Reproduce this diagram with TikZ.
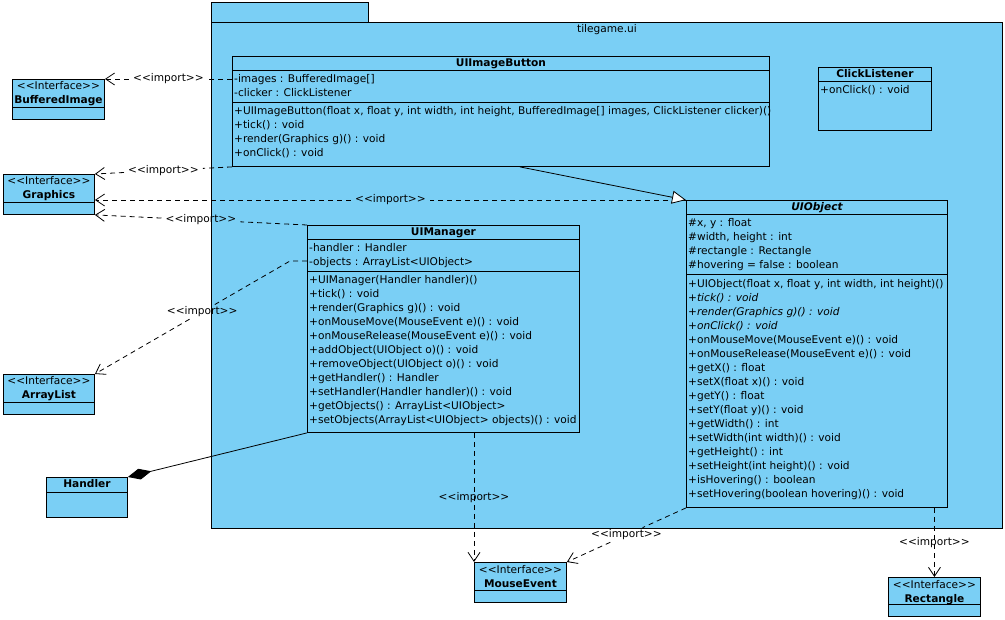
\documentclass[tikz,border=0pt]{standalone}
\usepackage{fontspec}
\setmainfont{DejaVu Sans}[Ligatures=TeXOff]
\usetikzlibrary{arrows.meta,calc,positioning}
\definecolor{vpblue}{RGB}{122,207,245}
\newcommand{\vpfont}{\fontsize{10.6}{14}\selectfont}
\tikzset{
        % Class and package boxes
        class_box/.style={rectangle, draw=black, fill=vpblue, line width=0.9pt, inner sep=0pt, anchor=north west},
        % Compartment separators
        class_sep/.style={draw=black, line width=0.9pt},
        % Class names
        class_name/.style={inner sep=0pt, anchor=base, font=\vpfont\bfseries},
        % Attributes and operations
        class_members/.style={inner sep=0pt, anchor=north west, align=left, font=\vpfont},
        % Interface header
        iface_head/.style={inner sep=0pt, anchor=north, align=center, font=\vpfont},
        % Import dependencies
        dep_line/.style={line width=0.8pt, dash pattern=on 5pt off 4pt},
        dep_tip/.style={-{Straight Barb[length=9pt,width=12pt]}},
        import_label/.style={inner xsep=4pt, inner ysep=2pt, font=\vpfont},
        % Generalization
        gen_line/.style={line width=0.8pt, -{Triangle[open,fill=white,length=14pt,width=13pt]}},
        % Composition
        comp_line/.style={line width=0.8pt, -{Diamond[length=24pt,width=11pt]}}
}

\begin{document}
\begin{tikzpicture}[x=1pt, y=-1pt]
    \useasboundingbox (0,0) rectangle (1005,620);

    % package
    \node[class_box, minimum width=157, minimum height=20] (pkg_tab) at (211,2) {};
    \node[class_box, minimum width=791, minimum height=506] (pkg) at (211,22) {};
    \node[class_name, font=\vpfont] (pkg_name) at ([shift={(0,11)}]pkg.north) {tilegame.ui};

    % UIImageButton
    \node[class_box, minimum width=537, minimum height=110] (btn) at (232,56) {};
    \draw[class_sep] ([shift={(0,14)}]btn.north west) -- ([shift={(0,14)}]btn.north east);
    \draw[class_sep] ([shift={(0,46)}]btn.north west) -- ([shift={(0,46)}]btn.north east);
    \node[class_name] (btn_name) at ([shift={(0,11)}]btn.north) {UIImageButton};
    \node[class_members] (btn_attr) at ([shift={(2,17)}]btn.north west)
        {\strut-images : BufferedImage[]\\-clicker : ClickListener};
    \node[class_members] (btn_ops) at ([shift={(2,49)}]btn.north west)
        {\strut+UIImageButton(float x, float y, int width, int height, BufferedImage[] images, ClickListener clicker)()\\
         +tick() : void\\+render(Graphics g)() : void\\+onClick() : void};

    % ClickListener
    \node[class_box, minimum width=113, minimum height=63] (click) at (818,67) {};
    \draw[class_sep] ([shift={(0,14)}]click.north west) -- ([shift={(0,14)}]click.north east);
    \node[class_name] (click_name) at ([shift={(0,11)}]click.north) {ClickListener};
    \node[class_members] (click_ops) at ([shift={(2,17)}]click.north west) {\strut+onClick() : void};

    % UIObject
    \node[class_box, minimum width=261, minimum height=307] (obj) at (686,200) {};
    \draw[class_sep] ([shift={(0,14)}]obj.north west) -- ([shift={(0,14)}]obj.north east);
    \draw[class_sep] ([shift={(0,74)}]obj.north west) -- ([shift={(0,74)}]obj.north east);
    \node[class_name] (obj_name) at ([shift={(0,11)}]obj.north) {\itshape UIObject};
    \node[class_members] (obj_attr) at ([shift={(2,17)}]obj.north west)
        {\strut\#x, y : float\\\#width, height : int\\\#rectangle : Rectangle\\\#hovering = false : boolean};
    \node[class_members] (obj_ops) at ([shift={(2,77)}]obj.north west)
        {\strut+UIObject(float x, float y, int width, int height)()\\
         \textit{+tick() : void}\\\textit{+render(Graphics g)() : void}\\\textit{+onClick() : void}\\
         +onMouseMove(MouseEvent e)() : void\\+onMouseRelease(MouseEvent e)() : void\\
         +getX() : float\\+setX(float x)() : void\\+getY() : float\\+setY(float y)() : void\\
         +getWidth() : int\\+setWidth(int width)() : void\\+getHeight() : int\\
         +setHeight(int height)() : void\\+isHovering() : boolean\\+setHovering(boolean hovering)() : void};

    % UIManager
    \node[class_box, minimum width=272, minimum height=207] (mgr) at (307,225) {};
    \draw[class_sep] ([shift={(0,14)}]mgr.north west) -- ([shift={(0,14)}]mgr.north east);
    \draw[class_sep] ([shift={(0,46)}]mgr.north west) -- ([shift={(0,46)}]mgr.north east);
    \node[class_name] (mgr_name) at ([shift={(0,11)}]mgr.north) {UIManager};
    \node[class_members] (mgr_attr) at ([shift={(2,17)}]mgr.north west)
        {\strut-handler : Handler\\-objects : ArrayList<UIObject>};
    \node[class_members] (mgr_ops) at ([shift={(2,49)}]mgr.north west)
        {\strut+UIManager(Handler handler)()\\+tick() : void\\+render(Graphics g)() : void\\
         +onMouseMove(MouseEvent e)() : void\\+onMouseRelease(MouseEvent e)() : void\\
         +addObject(UIObject o)() : void\\+removeObject(UIObject o)() : void\\
         +getHandler() : Handler\\+setHandler(Handler handler)() : void\\
         +getObjects() : ArrayList<UIObject>\\+setObjects(ArrayList<UIObject> objects)() : void};

    % interfaces outside the package
    \node[class_box, minimum width=92, minimum height=40] (bimg) at (12,79) {};
    \draw[class_sep] ([shift={(0,28)}]bimg.north west) -- ([shift={(0,28)}]bimg.north east);
    \node[iface_head] (bimg_name) at ([shift={(0,1)}]bimg.north) {\strut<<Interface>>\\\textbf{BufferedImage}};

    \node[class_box, minimum width=91, minimum height=40] (gfx) at (3,174) {};
    \draw[class_sep] ([shift={(0,28)}]gfx.north west) -- ([shift={(0,28)}]gfx.north east);
    \node[iface_head] (gfx_name) at ([shift={(0,1)}]gfx.north) {\strut<<Interface>>\\\textbf{Graphics}};

    \node[class_box, minimum width=91, minimum height=40] (alist) at (3,374) {};
    \draw[class_sep] ([shift={(0,28)}]alist.north west) -- ([shift={(0,28)}]alist.north east);
    \node[iface_head] (alist_name) at ([shift={(0,1)}]alist.north) {\strut<<Interface>>\\\textbf{ArrayList}};

    \node[class_box, minimum width=81, minimum height=40] (hdl) at (46,477) {};
    \draw[class_sep] ([shift={(0,15)}]hdl.north west) -- ([shift={(0,15)}]hdl.north east);
    \node[class_name] (hdl_name) at ([shift={(0,11)}]hdl.north) {Handler};

    \node[class_box, minimum width=92, minimum height=40] (mevt) at (474,562) {};
    \draw[class_sep] ([shift={(0,28)}]mevt.north west) -- ([shift={(0,28)}]mevt.north east);
    \node[iface_head] (mevt_name) at ([shift={(0,1)}]mevt.north) {\strut<<Interface>>\\\textbf{MouseEvent}};

    \node[class_box, minimum width=92, minimum height=39] (rect) at (888,577) {};
    \draw[class_sep] ([shift={(0,27)}]rect.north west) -- ([shift={(0,27)}]rect.north east);
    \node[iface_head] (rect_name) at ([shift={(0,1)}]rect.north) {\strut<<Interface>>\\\textbf{Rectangle}};

    % imports
    \coordinate (btn_bimg) at ([shift={(0,23)}]btn.north west);
    \node[import_label] (imp_bimg) at ($(btn_bimg)!0.5!(bimg.north east)$) {<<import>>};
    \draw[dep_line] (btn_bimg) -- (imp_bimg);
    \draw[dep_line, dep_tip] (imp_bimg) -- (bimg.north east);

    \node[import_label] (imp_gfx_btn) at ($(btn.south west)!0.5!(gfx.north east)$) {<<import>>};
    \draw[dep_line] (btn.south west) -- (imp_gfx_btn);
    \draw[dep_line, dep_tip] (imp_gfx_btn) -- (gfx.north east);

    \coordinate (gfx_obj) at (gfx.east |- obj.north west);
    \node[import_label] (imp_gfx_obj) at ($(obj.north west)!0.5!(gfx_obj)$) {<<import>>};
    \draw[dep_line] (obj.north west) -- (imp_gfx_obj);
    \draw[dep_line, dep_tip] (imp_gfx_obj) -- (gfx_obj);

    \node[import_label] (imp_gfx_mgr) at ($(mgr.north west)!0.5!(gfx.south east)$) {<<import>>};
    \draw[dep_line] (mgr.north west) -- (imp_gfx_mgr);
    \draw[dep_line, dep_tip] (imp_gfx_mgr) -- (gfx.south east);

    \coordinate (mgr_objects) at ([shift={(0,36)}]mgr.north west);
    \coordinate (mgr_bend) at ([shift={(-17,36)}]mgr.north west);
    \node[import_label] (imp_alist) at ($(mgr_bend)!0.45!(alist.north east)$) {<<import>>};
    \draw[dep_line] (mgr_objects) -- (mgr_bend) -- (imp_alist);
    \draw[dep_line, dep_tip] (imp_alist) -- (alist.north east);

    \coordinate (mgr_mevt) at (mevt.north west |- mgr.south);
    \draw[dep_line, dep_tip] (mgr_mevt) -- node[import_label] (imp_mevt_mgr) {<<import>>} (mevt.north west);

    \node[import_label] (imp_mevt_obj) at ($(obj.south west)!0.5!(mevt.north east)$) {<<import>>};
    \draw[dep_line] (obj.south west) -- (imp_mevt_obj);
    \draw[dep_line, dep_tip] (imp_mevt_obj) -- (mevt.north east);

    \coordinate (obj_rect) at (rect.north |- obj.south);
    \draw[dep_line, dep_tip] (obj_rect) -- node[import_label] (imp_rect) {<<import>>} (rect.north);

    % generalization and composition
    \draw[gen_line] ([shift={(288,0)}]btn.south west) -- (obj.north west);
    \draw[comp_line] (mgr.south west) -- (hdl.north east);
\end{tikzpicture}
\end{document}
